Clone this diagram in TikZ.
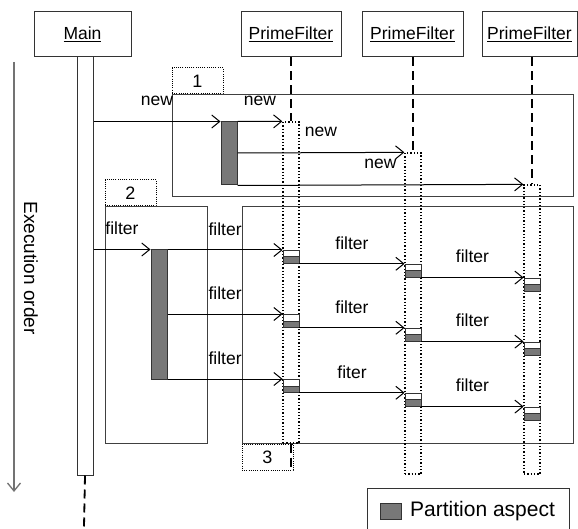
\documentclass[tikz,border=0pt]{standalone}
\usepackage{fontspec}
\setmainfont{Liberation Sans}
\usetikzlibrary{positioning}
\usetikzlibrary{arrows.meta}

\definecolor{aspectgray}{gray}{0.47}

% one partition slot on a lifeline: white top, gray bottom
\newcommand\partbox[2]{%
\node[part, anchor=north] (#1) at (#2) {};
}

\begin{document}
\begin{tikzpicture}[x=1pt,y=-1pt,
	every node/.style={inner sep=0pt, font=\fontsize{17.5}{21}\selectfont},
	object/.style={draw=black!80, line width=1pt, minimum height=45pt},
	bar/.style={draw=black!80, line width=1pt, minimum width=16pt},
	shadedbar/.style={bar, fill=aspectgray},
	lifebox/.style={draw, line width=1.3pt, dash pattern=on 1.3pt off 2pt, minimum width=16pt},
	frame/.style={draw=black!75, line width=1pt},
	tag/.style={draw, line width=1pt, dash pattern=on 1pt off 1.2pt, minimum width=51pt, minimum height=26pt, font=\fontsize{18}{21}\selectfont},
	life/.style={line width=1.8pt, dash pattern=on 9pt off 5pt},
	msg/.style={line width=1pt, -{Straight Barb[length=8pt,width=13pt]}},
	order/.style={draw=black!55, line width=1.3pt, -{Straight Barb[length=8pt,width=13pt]}},
	part/.style={draw=black!80, line width=0.8pt, fill=white, minimum width=16pt, minimum height=13pt,
		path picture={\fill[aspectgray] (path picture bounding box.west) rectangle (path picture bounding box.south east);
		\draw[black!80, line width=0.8pt] (path picture bounding box.west) -- (path picture bounding box.east);}},
	lbl/.style={midway, yshift=21pt}]

	\useasboundingbox (0,0) rectangle (578,529);

	%% objects
	\node[object, minimum width=97pt] (main) at (82.5,34.5) {\underline{Main}};
	\node[object, minimum width=100pt] (pf1) at (291,34.5) {\underline{PrimeFilter}};
	\node[object, minimum width=101pt] (pf2) at (412.5,34.5) {\underline{PrimeFilter}};
	\node[object, minimum width=95pt] (pf3) at (529.5,34.5) {\underline{PrimeFilter}};

	%% frames and their numbers
	\node[frame, minimum width=401pt, minimum height=102pt] (frameNew) at (372.5,146) {};
	\node[frame, minimum width=102pt, minimum height=236pt] (frameCall) at (156,325) {};
	\node[frame, minimum width=331pt, minimum height=236pt] (frameChain) at (407.5,325) {};
	\node[tag, anchor=south west] (tag1) at (frameNew.north west) {1};
	\node[tag, anchor=south west] (tag2) at (frameCall.north west) {2};
	\node[tag, anchor=north west] (tag3) at (frameChain.south west) {3};

	%% activations
	\node[bar, fill=white, minimum height=418pt] (mainbar) at (85,266) {};
	\node[shadedbar, minimum height=63pt] (newbar) at (229,153.5) {};
	\node[shadedbar, minimum height=129pt] (filterbar) at (159,314.5) {};
	\node[lifebox, minimum height=321pt] (pf1act) at (291,282.5) {};
	\node[lifebox, minimum height=321pt] (pf2act) at (413,313.5) {};
	\node[lifebox, minimum height=289pt] (pf3act) at (532,329.5) {};

	%% lifelines
	\coordinate (mainend) at (84,527);
	\coordinate (pf1end) at (291,470);
	\draw[life] (pf1.south) -- (pf1act.north);
	\draw[life] (pf2.south -| pf2act.north) -- (pf2act.north);
	\draw[life] (pf3.south -| pf3act.north) -- (pf3act.north);
	\draw[life] (mainbar.south) -- (mainend);
	\draw[life] (pf1act.south) -- (pf1end);

	%% creation
	\coordinate (n2) at (0,153);
	\draw[msg] (mainbar.east |- newbar.north) -- (newbar.north west) node[lbl] {new};
	\draw[msg] (newbar.north east) -- (pf1act.north west) node[lbl] {new};
	\draw[msg] (newbar.east |- n2) -- (pf2act.north west) node[lbl] {new};
	\draw[msg] (newbar.south east) -- (pf3act.north west) node[lbl] {new};

	%% filtering
	\draw[msg] (mainbar.east |- filterbar.north) -- (filterbar.north west) node[lbl] {filter};
	\foreach \row/\y/\txt in {1/250/filter, 2/314/filter, 3/379/fiter} {
		\coordinate (r\row) at (0,\y);
		\partbox{p1\row}{pf1act.center |- r\row}
		\partbox{p2\row}{pf2act.center |- p1\row.south}
		\partbox{p3\row}{pf3act.center |- p2\row.south}
		\draw[msg] (filterbar.east |- r\row) -- (p1\row.north west) node[lbl] {filter};
		\draw[msg] (p1\row.south east) -- (p2\row.north west) node[lbl] {\txt};
		\draw[msg] (p2\row.south east) -- (p3\row.north west) node[lbl] {filter};
	}

	%% execution order
	\coordinate (ordtop) at (14,62);
	\coordinate (ordend) at (14,492);
	\draw[order] (ordtop) -- (ordend);
	\node[rotate=-90, font=\fontsize{19}{23}\selectfont] (ordlabel) at (31,268) {Execution order};

	%% legend
	\node[draw=black!80, line width=1pt, anchor=north west, minimum width=202pt, minimum height=50pt] (legend) at (367,488) {};
	\node[draw=black!80, fill=aspectgray, minimum width=21pt, minimum height=16pt] (legsq) at (390.5,511) {};
	\node[anchor=west, font=\fontsize{21}{25}\selectfont] (legtxt) at (410,511) {Partition aspect};

\end{tikzpicture}
\end{document}
